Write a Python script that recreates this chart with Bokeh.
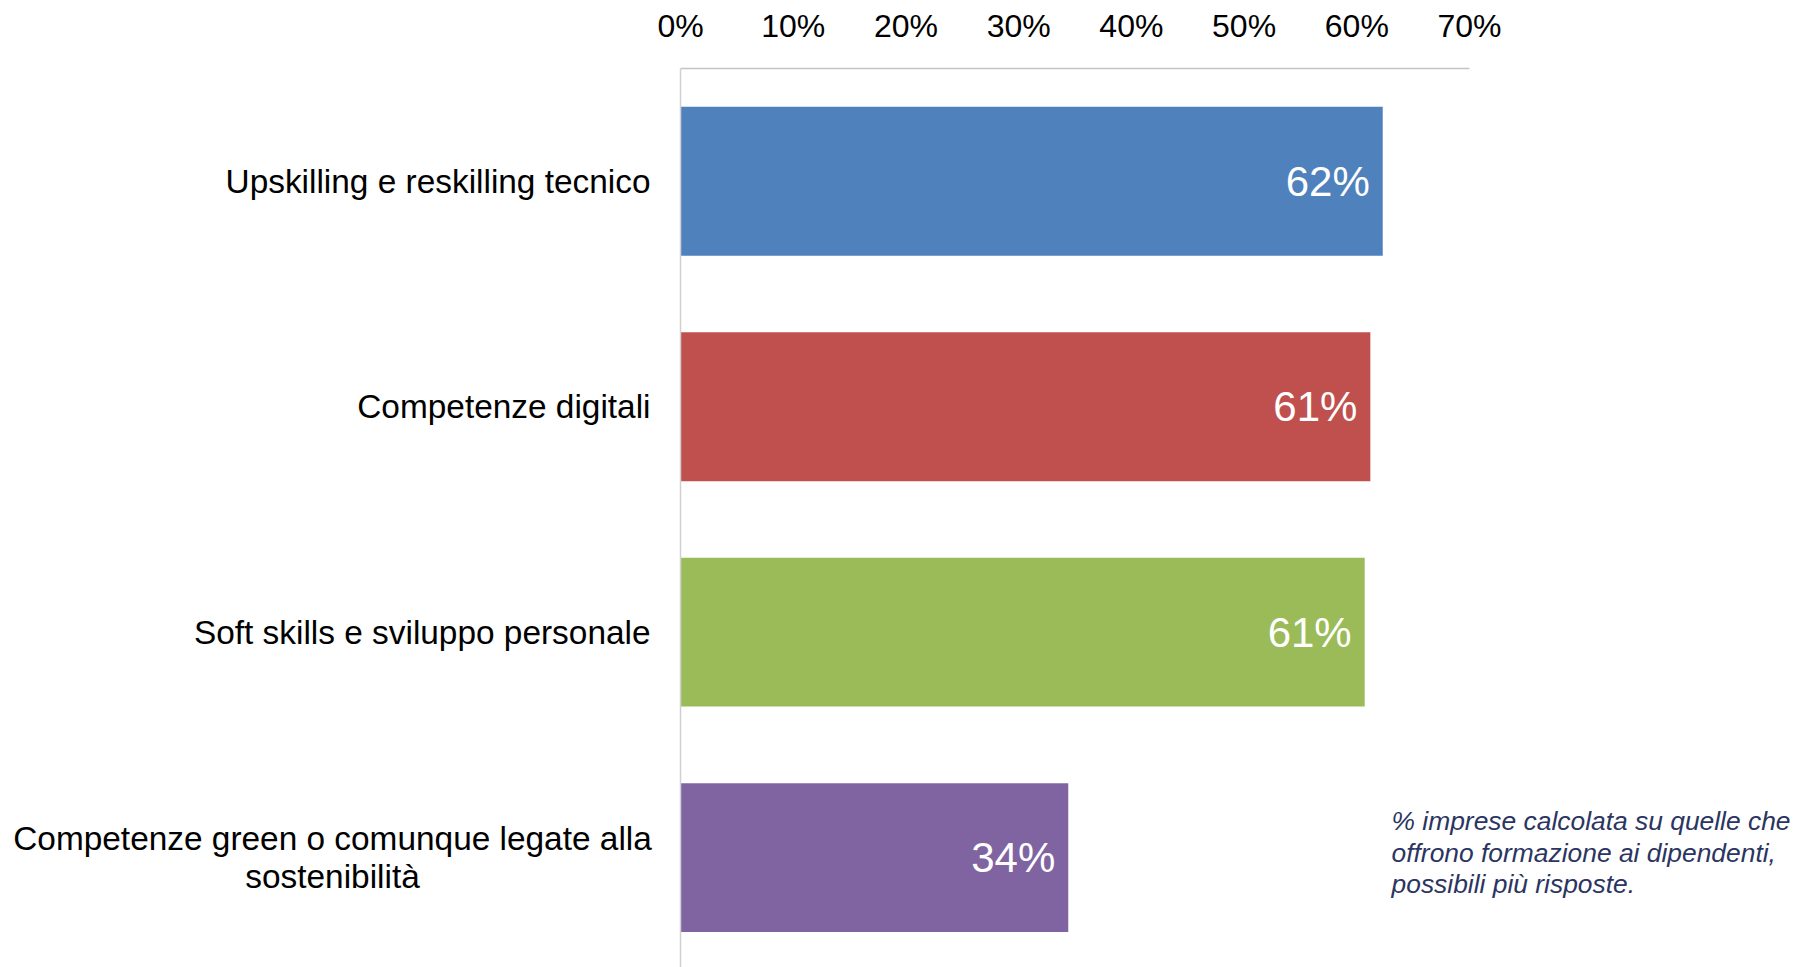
from bokeh.plotting import figure
from bokeh.models import Range1d, FixedTicker, PrintfTickFormatter, Label, ColumnDataSource, Span
from bokeh.core.properties import value
from bokeh.embed import file_html
from bokeh.resources import INLINE

categories = [
    "Upskilling e reskilling tecnico",
    "Competenze digitali",
    "Soft skills e sviluppo personale",
    "Competenze green o comunque legate alla\nsostenibilità",
]
values = [62.3, 61.2, 60.7, 34.4]
value_labels = ["62%", "61%", "61%", "34%"]
colors = ["#4F81BD", "#C0504D", "#9BBB59", "#8064A2"]
x_ticks = [0, 10, 20, 30, 40, 50, 60, 70]
footnote = "% imprese calcolata su quelle che\noffrono formazione ai dipendenti,\npossibili più risposte."

FONT = "Liberation Sans"

positions = list(range(len(categories)))

p = figure(
    width=1795, height=967,
    output_backend="svg", toolbar_location=None,
    x_range=Range1d(-60.33, 98.92),
    y_range=Range1d(start=3.487, end=-0.5),
    x_axis_location="above",
    min_border_left=0, min_border_right=0,
    min_border_top=68, min_border_bottom=0,
)
p.outline_line_color = None
p.xgrid.visible = False
p.ygrid.visible = False
p.yaxis.visible = False
p.background_fill_color = "white"
p.border_fill_color = "white"

src = ColumnDataSource(dict(y=positions, right=values, color=colors, lab=value_labels))
p.hbar(y="y", left=0, right="right", height=0.66, fill_color="color", line_color=None, source=src)
p.text(x="right", y="y", text="lab", source=src, x_offset=-13,
       text_align="right", text_baseline="middle", text_color="white",
       text_font=value(FONT), text_font_size="42px")

# category axis line
p.add_layout(Span(location=0, dimension="height", line_color="#D0D0D0", line_width=1.5))

# x axis (top)
xa = p.xaxis[0]
xa.ticker = FixedTicker(ticks=x_ticks)
xa.bounds = (x_ticks[0], x_ticks[-1])
xa.formatter = PrintfTickFormatter(format="%d%%")
xa.major_tick_line_color = None
xa.minor_tick_line_color = None
xa.axis_line_color = "#C4C4C4"
xa.axis_line_width = 1.5
xa.major_label_text_font = FONT
xa.major_label_text_font_size = "32px"
xa.major_label_text_color = "black"
xa.major_label_standoff = 19

# category labels
single = [(i, c) for i, c in enumerate(categories) if "\n" not in c]
multi = [(i, c) for i, c in enumerate(categories) if "\n" in c]
p.text(x=[0] * len(single), y=[i for i, _ in single], text=[c for _, c in single],
       x_offset=-30, text_align="right", text_baseline="middle",
       text_font=value(FONT), text_font_size="33.4px", text_color="black")
p.text(x=[0] * len(multi), y=[i for i, _ in multi], text=[c for _, c in multi],
       x_offset=-348, text_align="center", text_baseline="middle",
       text_font=value(FONT), text_font_size="33.4px", text_color="black",
       text_line_height=1.02)

note = Label(x=63.08, y=2.77, x_units="data", y_units="data", text=footnote,
             text_font=FONT, text_font_size="26.4px", text_font_style="italic",
             text_color="#2B3561", text_baseline="top", text_align="left",
             text_line_height=1.06)
p.add_layout(note)

open("out.html", "w").write(file_html(p, INLINE))
